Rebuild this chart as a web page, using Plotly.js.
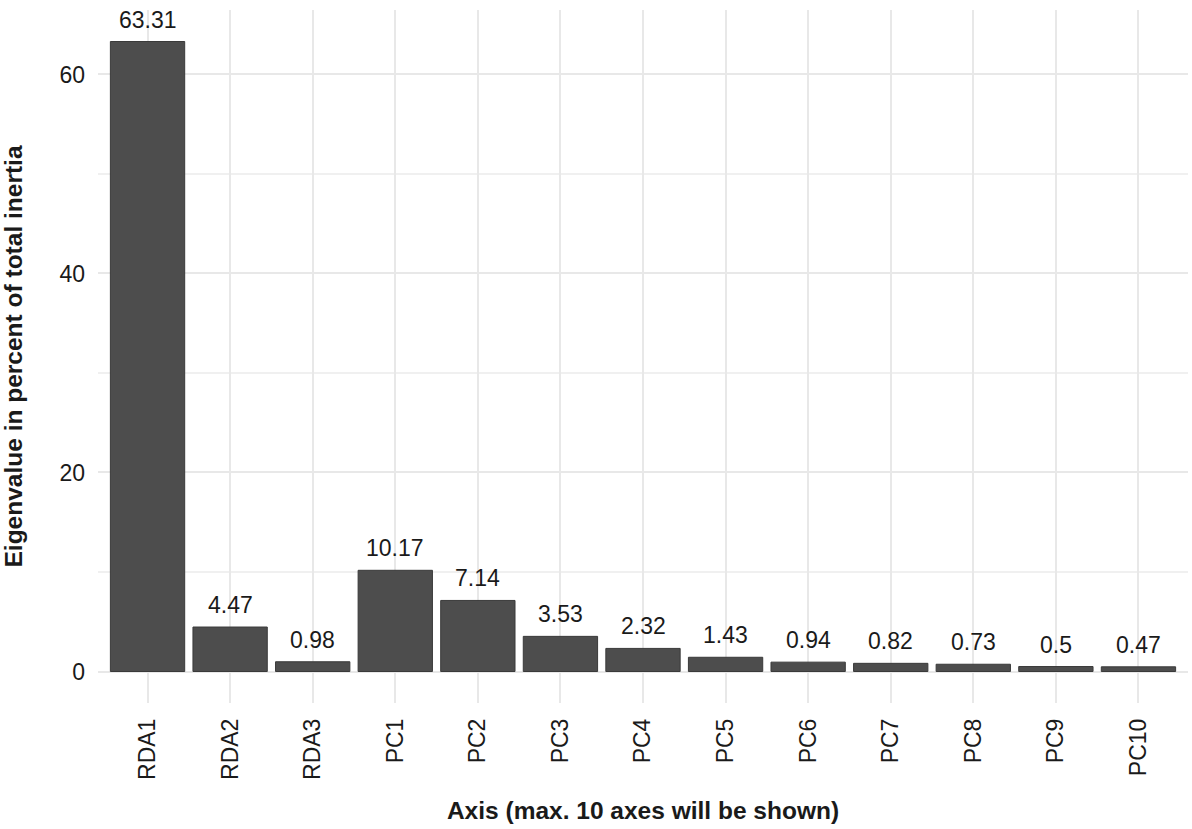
<!DOCTYPE html>
<html>
<head>
<meta charset="utf-8">
<script src="https://cdn.plot.ly/plotly-3.0.1.min.js"></script>
<style>html,body{margin:0;padding:0;background:#fff;}#chart{width:1192px;height:829px;}</style>
</head>
<body>
<div id="chart"></div>
<script>
const categories = ["RDA1","RDA2","RDA3","PC1","PC2","PC3","PC4","PC5","PC6","PC7","PC8","PC9","PC10"];
const values = [63.31, 4.47, 0.98, 10.17, 7.14, 3.53, 2.32, 1.43, 0.94, 0.82, 0.73, 0.5, 0.47];
const yTickVals = [0, 20, 40, 60];

const FONT = "Liberation Sans, Arial, Helvetica, sans-serif";
const TXT = "#1a1a1a";

const trace = {
  type: "bar",
  x: categories,
  y: values,
  marker: {color: "#4d4d4d", line: {color: "#3a3a3a", width: 1}},
  width: 0.9,
  hoverinfo: "x+y"
};

const annotations = categories.map((c, i) => ({
  x: c, y: values[i], xref: "x", yref: "y",
  text: String(values[i]),
  showarrow: false, yanchor: "bottom", yshift: 7,
  font: {family: FONT, size: 23, color: TXT}
}));

const ymax = Math.max(...values);
const layout = {
  width: 1192, height: 829,
  margin: {l: 98, r: 4, t: 10, b: 126},
  paper_bgcolor: "#fff", plot_bgcolor: "#fff",
  showlegend: false,
  font: {family: FONT, size: 23, color: TXT},
  xaxis: {
    type: "category",
    range: [-0.6, categories.length - 0.4],
    tickangle: -90,
    showgrid: true, gridcolor: "#e8e8e8", gridwidth: 2,
    zeroline: false, showline: false,
    ticks: "", ticklabelstandoff: 10,
    tickfont: {family: FONT, size: 23, color: TXT},
    title: {text: "<b>Axis (max. 10 axes will be shown)</b>", standoff: 22,
            font: {family: FONT, size: 24.5, color: TXT}},
    fixedrange: true
  },
  yaxis: {
    range: [-0.05 * ymax, ymax * 1.05],
    tickvals: yTickVals,
    showgrid: true, gridcolor: "#e8e8e8", gridwidth: 2,
    minor: {dtick: 10, tick0: 0, showgrid: true, gridcolor: "#f0f0f0", gridwidth: 1.5},
    zeroline: false, showline: false,
    ticks: "", ticklabelstandoff: 12,
    tickfont: {family: FONT, size: 23, color: TXT},
    title: {text: "<b>Eigenvalue in percent of total inertia</b>", standoff: 30,
            font: {family: FONT, size: 24.5, color: TXT}},
    fixedrange: true
  },
  annotations: annotations
};

Plotly.newPlot("chart", [trace], layout, {displayModeBar: false, staticPlot: true});
</script>
</body>
</html>
